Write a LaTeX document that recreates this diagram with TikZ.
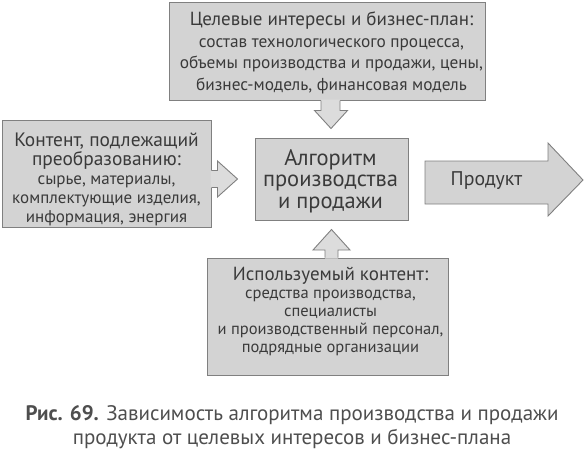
\documentclass[tikz,border=0pt]{standalone}
\usepackage{fontspec}
\setmainfont{PT Sans}
\usetikzlibrary{calc}
\definecolor{boxfill}{HTML}{D3D3D3}
\definecolor{arrfill}{HTML}{DCDCDC}
\definecolor{edge}{HTML}{808080}
\definecolor{txt}{HTML}{3A3A3A}
\newcommand{\fs}[2]{\fontsize{#1}{#2}\selectfont}
\begin{document}
\begin{tikzpicture}[x=1pt,y=-1pt,
  blk/.style={draw=edge, fill=boxfill, line width=1pt, inner sep=0pt},
  arrline/.style={draw=edge, line width=0.9pt, line join=miter},
  lbl/.style={inner sep=0pt, align=center, text=txt}]
\useasboundingbox (0,0) rectangle (585,456);
% boxes
\node[blk, minimum width=316, minimum height=98] (goals) at (327.5,51) {};
\node[blk, minimum width=209, minimum height=107] (input) at (106.5,173.5) {};
\node[blk, minimum width=153, minimum height=82] (algo) at (331.5,179) {};
\node[blk, minimum width=241, minimum height=117] (res) at (327.5,316.5) {};
% box texts
\node[lbl, font=\fs{17.3}{21.5}] (goals-t) at ($(goals.center)+(4,2)$)
  {{\fs{19}{21.5}Целевые интересы и бизнес-план:}\\состав технологического процесса,\\объемы производства и продажи, цены,\\бизнес-модель, финансовая модель};
\node[lbl, font=\fs{17}{19}] (input-t) at ($(input.center)+(0,5.5)$)
  {{\fs{19.4}{19}Контент, подлежащий}\\{\fs{19.4}{19}преобразованию:}\\сырье, материалы,\\комплектующие изделия,\\информация, энергия};
\node[lbl, font=\fs{22.5}{21.5}] (algo-t) at ($(algo.center)+(-1,2)$)
  {Алгоритм\\производства\\и продажи};
\node[lbl, font=\fs{16.5}{18}] (res-t) at ($(res.center)+(3,-5)$)
  {{\fs{19}{18}Используемый контент:}\\средства производства,\\специалисты\\и производственный персонал,\\подрядные организации};
% down arrow
\coordinate (d0) at ($(goals.south)+(3,0)$);
\coordinate (dT) at ($(algo.north)+(-0.5,-9)$);
\fill[arrfill] ($(d0)+(-9.5,-1)$) -- ($(d0)+(-9.5,10)$) -- ($(d0)+(-16,10)$) -- (dT) -- ($(d0)+(17,10)$) -- ($(d0)+(9.5,10)$) -- ($(d0)+(9.5,-1)$) -- cycle;
\draw[arrline] ($(d0)+(-9.5,0)$) -- ($(d0)+(-9.5,10)$) -- ($(d0)+(-16,10)$) -- (dT) -- ($(d0)+(17,10)$) -- ($(d0)+(9.5,10)$) -- ($(d0)+(9.5,0)$);
% left arrow
\coordinate (l0) at (input.east |- algo.west);
\coordinate (lT) at ($(algo.west)+(-17,0)$);
\fill[arrfill] ($(l0)+(-1,-8.5)$) -- ($(l0)+(6,-8.5)$) -- ($(l0)+(6,-18)$) -- (lT) -- ($(l0)+(6,18)$) -- ($(l0)+(6,8.5)$) -- ($(l0)+(-1,8.5)$) -- cycle;
\draw[arrline] ($(l0)+(0,-8.5)$) -- ($(l0)+(6,-8.5)$) -- ($(l0)+(6,-18)$) -- (lT) -- ($(l0)+(6,18)$) -- ($(l0)+(6,8.5)$) -- ($(l0)+(0,8.5)$);
% up arrow
\coordinate (u0) at (algo.south |- res.north);
\coordinate (uT) at ($(algo.south)+(0,9)$);
\fill[arrfill] ($(u0)+(-6.5,1)$) -- ($(u0)+(-6.5,-7.5)$) -- ($(u0)+(-18.5,-7.5)$) -- (uT) -- ($(u0)+(18.5,-7.5)$) -- ($(u0)+(6.5,-7.5)$) -- ($(u0)+(6.5,1)$) -- cycle;
\draw[arrline] ($(u0)+(-6.5,0)$) -- ($(u0)+(-6.5,-7.5)$) -- ($(u0)+(-18.5,-7.5)$) -- (uT) -- ($(u0)+(18.5,-7.5)$) -- ($(u0)+(6.5,-7.5)$) -- ($(u0)+(6.5,0)$);
% product arrow
\draw[arrline, fill=boxfill] (425,161) -- (548,161) -- (548,143) -- (583,180) -- (548,216) -- (548,204) -- (425,204) -- cycle;
\node[lbl, font=\fs{19.8}{22}] (prod) at (486.5,181) {Продукт};
% caption
\node[lbl, font=\fs{21}{24}, text=txt!90] (cap) at (292,427)
  {\textbf{Рис. 69.} Зависимость алгоритма производства и продажи\\продукта от целевых интересов и бизнес-плана};
\end{tikzpicture}
\end{document}
